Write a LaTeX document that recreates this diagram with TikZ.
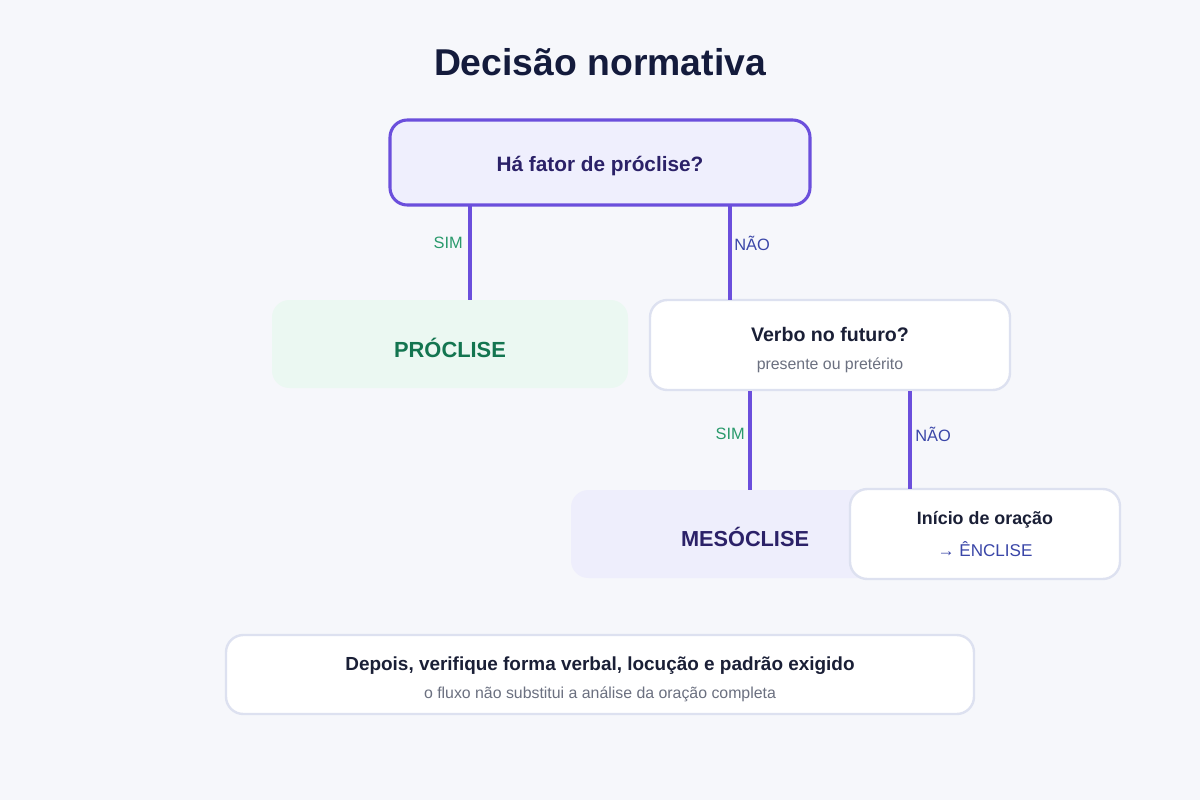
\documentclass[tikz,border=0pt]{standalone}
\usepackage{fontspec}
\setmainfont{Liberation Sans}
\definecolor{bg}{HTML}{F6F7FB}
\definecolor{titlec}{HTML}{141B3C}
\definecolor{purp}{HTML}{6B4FDC}
\definecolor{qfill}{HTML}{EFEFFD}
\definecolor{qtext}{HTML}{2B2168}
\definecolor{simc}{HTML}{2A9A6C}
\definecolor{naoc}{HTML}{3A46A8}
\definecolor{grfill}{HTML}{EBF8F2}
\definecolor{grtext}{HTML}{137550}
\definecolor{mfill}{HTML}{EEEEFC}
\definecolor{wstroke}{HTML}{DDE1F0}
\definecolor{dark}{HTML}{1A1F36}
\definecolor{grayt}{HTML}{6B7080}
\tikzset{
  x=0.75pt, y=-0.75pt,
  box/.style={rounded corners=13pt, inner sep=0pt, outer sep=0pt},
  wbox/.style={box, fill=white, draw=wstroke, line width=1.8pt},
  conn/.style={draw=purp, line width=3pt},
  lab/.style={inner sep=0pt, font=\fontsize{12.3pt}{14pt}\selectfont},
  txt/.style={inner sep=0pt},
}
\begin{document}
\begin{tikzpicture}
\fill[bg] (0,0) rectangle (1200,800);
\useasboundingbox (0,0) rectangle (1200,800);

\node[txt, text=titlec, font=\fontsize{28pt}{32pt}\selectfont\bfseries] (title) at (600,62) {Decisão normativa};

\node[box, fill=qfill, draw=purp, line width=2.3pt, minimum width=315pt, minimum height=63.75pt] (top) at (600,162.5) {};
\node[txt, text=qtext, font=\fontsize{15.6pt}{18pt}\selectfont\bfseries] (topt) at (600,166) {Há fator de próclise?};

\node[box, fill=grfill, minimum width=267pt, minimum height=66pt] (pro) at (450,344) {};
\node[txt, text=grtext, font=\fontsize{16.4pt}{19pt}\selectfont\bfseries] (prot) at (450,347.5) {PRÓCLISE};

\node[wbox, minimum width=270pt, minimum height=67.5pt] (verbo) at (830,345) {};
\node[txt, text=dark, font=\fontsize{14.7pt}{17pt}\selectfont\bfseries] (verbot) at (830,334) {Verbo no futuro?};
\node[txt, text=grayt, font=\fontsize{11.9pt}{14pt}\selectfont] (verbos) at (830,365) {presente ou pretérito};

\node[box, fill=mfill, minimum width=261pt, minimum height=66pt] (mes) at (745,534) {};
\node[txt, text=qtext, font=\fontsize{16.3pt}{19pt}\selectfont\bfseries] (mest) at (745,537) {MESÓCLISE};

\node[wbox, minimum width=202.5pt, minimum height=67.5pt] (ini) at (985,534) {};
\node[txt, text=dark, font=\fontsize{13.4pt}{16pt}\selectfont\bfseries] (init) at (985,520) {Início de oração};
\node[txt, text=naoc, font=\fontsize{12.8pt}{15pt}\selectfont] (inis) at (985,549) {→ ÊNCLISE};

\node[wbox, minimum width=561pt, minimum height=59.25pt] (bot) at (600,674.5) {};
\node[txt, text=dark, font=\fontsize{14.2pt}{17pt}\selectfont\bfseries] (bott) at (600,666) {Depois, verifique forma verbal, locução e padrão exigido};
\node[txt, text=grayt, font=\fontsize{11.9pt}{14pt}\selectfont] (bots) at (600,694.5) {o fluxo não substitui a análise da oração completa};

% connectors
\draw[conn] ([xshift=60pt,yshift=-1pt]top.south west) -- ([xshift=148.5pt]pro.north west) coordinate (c1);
\draw[conn] ([xshift=255pt,yshift=-1pt]top.south west) -- ([xshift=60pt]verbo.north west) coordinate (c2);
\draw[conn] ([xshift=75pt,yshift=-1pt]verbo.south west) -- ([xshift=134.25pt]mes.north west) coordinate (c3);
\draw[conn] ([xshift=195pt,yshift=-1pt]verbo.south west) -- ([xshift=45pt]ini.north west) coordinate (c4);

\node[lab, text=simc, anchor=east] (l1) at (463,243) {SIM};
\node[lab, text=naoc, anchor=west] (l2) at (734,243) {NÃO};
\node[lab, text=simc, anchor=east] (l3) at (745,434) {SIM};
\node[lab, text=naoc, anchor=west] (l4) at (915,434) {NÃO};
\end{tikzpicture}
\end{document}
